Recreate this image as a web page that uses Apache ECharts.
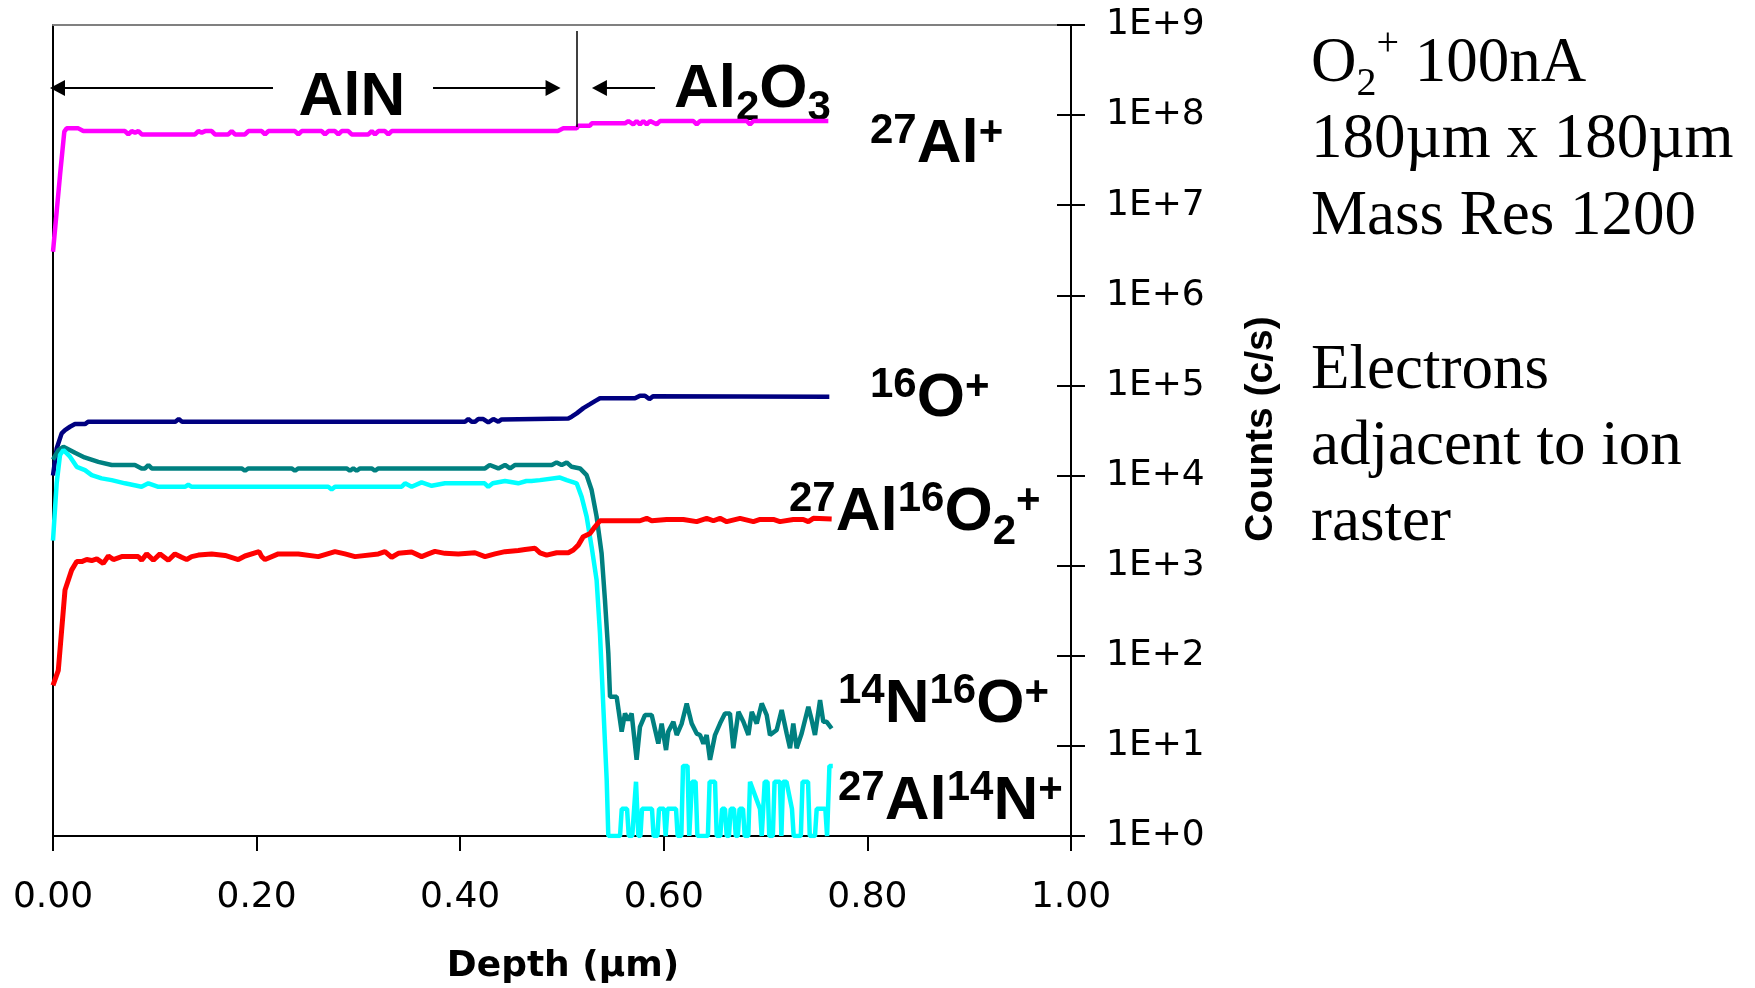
<!DOCTYPE html>
<html>
<head>
<meta charset="utf-8">
<script src="https://cdn.jsdelivr.net/npm/echarts@6.0.0/dist/echarts.min.js"></script>
<style>
html,body{margin:0;padding:0;background:#fff;}
#chart{width:1755px;height:988px;}
</style>
</head>
<body>
<div id="chart"></div>
<script>
// ---------------- DATA ----------------
// 27Al+ (magenta)
const depthAl = [0,0.0069,0.0111,0.0134,0.0249,0.0298,0.0707,0.0740,0.0773,0.0806,0.0839,0.0872,0.1395,0.1428,0.1461,0.1494,0.1559,0.1591,0.1722,0.1755,0.1788,0.1886,0.1919,0.2050,0.2083,0.2115,0.2377,0.2410,0.2443,0.2639,0.2672,0.2705,0.2770,0.2803,0.2836,0.2901,0.2934,0.3098,0.3131,0.3163,0.3196,0.3261,0.3294,0.3327,0.4960,0.5013,0.5144,0.5160,0.5275,0.5292,0.5619,0.5652,0.5700,0.5733,0.5766,0.5799,0.5832,0.5865,0.5930,0.5963,0.6290,0.6323,0.6356,0.6814,0.6847,0.6880,0.7616];
const countsAl = [3.05e6,2.16e7,6.55e7,7.13e7,7.13e7,6.65e7,6.65e7,6.11e7,6.65e7,6.4e7,6.65e7,6.11e7,6.11e7,6.65e7,6.4e7,6.65e7,6.65e7,6.11e7,6.11e7,6.65e7,6.11e7,6.11e7,6.65e7,6.65e7,6.11e7,6.65e7,6.65e7,6.11e7,6.65e7,6.65e7,6.11e7,6.65e7,6.65e7,6.11e7,6.65e7,6.65e7,6.11e7,6.11e7,6.65e7,6.11e7,6.65e7,6.65e7,6.11e7,6.65e7,6.65e7,7.13e7,7.13e7,7.64e7,7.64e7,8.1e7,8.1e7,8.6e7,7.9e7,8.6e7,7.9e7,8.6e7,7.9e7,8.6e7,7.9e7,8.6e7,8.6e7,7.9e7,8.6e7,8.6e7,7.9e7,8.6e7,8.6e7];

// 16O+ (navy)
const depthO = [0,0.0036,0.0085,0.0118,0.0167,0.0216,0.0314,0.0347,0.1202,0.1235,0.1268,0.4047,0.4080,0.4113,0.4146,0.4178,0.4227,0.4276,0.4325,0.4375,0.4407,0.5062,0.5095,0.5144,0.5210,0.5275,0.5324,0.5373,0.5717,0.5766,0.5815,0.5858,0.5897,0.7626];
const countsO = [1.0e4,2.0e4,2.94e4,3.2e4,3.48e4,3.73e4,3.73e4,3.96e4,3.96e4,4.24e4,3.96e4,3.96e4,4.24e4,3.96e4,3.96e4,4.24e4,4.24e4,3.9e4,4.24e4,3.96e4,4.2e4,4.3e4,4.5e4,4.9e4,5.6e4,6.2e4,6.7e4,7.2e4,7.2e4,7.7e4,7.7e4,7.06e4,7.6e4,7.5e4];

// 14N16O+ (teal)
const depthNO = [0,0.0052,0.0102,0.0216,0.0310,0.0445,0.0576,0.0805,0.0870,0.0904,0.0937,0.0970,0.1853,0.1886,0.1919,0.2344,0.2377,0.2410,0.2884,0.2917,0.2950,0.2983,0.3016,0.3130,0.3163,0.3196,0.4244,0.4290,0.4375,0.4440,0.4490,0.4540,0.4900,0.4947,0.4997,0.5046,0.5095,0.5177,0.5242,0.5291,0.5340,0.5389,0.5422,0.5455,0.5472,0.5537,
  0.5586,0.5619,0.5651,0.5684,0.5733,0.5766,0.5815,0.5881,0.5946,0.5979,0.6022,0.6044,0.6094,0.6127,0.6176,0.6225,0.6274,0.6323,0.6356,0.6389,0.6421,0.6454,0.6503,0.6552,0.6601,0.6650,0.6683,0.6733,0.6782,0.6831,0.6864,0.6913,0.6962,0.7011,0.7043,0.7109,0.7158,0.7207,0.7240,0.7272,0.7305,0.7354,0.7420,0.7453,0.7485,0.7535,0.7567,0.7600,0.7649];
const countsNO = [1.5e4,1.9e4,2.09e4,1.79e4,1.59e4,1.42e4,1.31e4,1.31e4,1.2e4,1.2e4,1.31e4,1.2e4,1.2e4,1.13e4,1.2e4,1.2e4,1.13e4,1.2e4,1.2e4,1.13e4,1.2e4,1.13e4,1.2e4,1.2e4,1.13e4,1.2e4,1.2e4,1.31e4,1.2e4,1.31e4,1.2e4,1.31e4,1.31e4,1.4e4,1.31e4,1.4e4,1.25e4,1.2e4,1.01e4,6.9e3,3.5e3,1.37e3,415,107,35,35,
  14.4,22.9,19.3,22.9,7.0,16.3,22.0,22.0,10.6,17.7,9.0,14.4,18.5,13.2,17.7,29.6,17.7,13.7,13.2,10.6,13.2,7.0,13.2,17.7,22.9,22.9,9.4,23.9,18.5,13.2,23.9,17.7,29.6,22.0,13.2,15.0,25.0,13.7,9.4,17.7,9.4,13.7,27.2,19.3,13.2,32.2,18.5,18.5,15.6];

// 27Al14N+ (cyan)
const depthAlN = [0,0.0036,0.0069,0.0102,0.0167,0.0233,0.0314,0.0380,0.0478,0.0576,0.0707,0.0870,0.0937,0.1035,0.1296,0.1329,0.1362,0.2704,0.2737,0.2770,0.3425,0.3458,0.3523,0.3621,0.3720,0.3850,0.4240,0.4276,0.4320,0.4440,0.4570,0.4650,0.4700,0.4784,0.4980,0.5046,0.5144,0.5193,0.5242,0.5291,0.5340,0.5373,0.5406,0.5439,
  0.5455,0.5570,0.5587,0.5639,0.5656,0.5690,0.5727,0.5750,0.5770,0.5786,0.5884,0.5900,0.5937,0.5953,0.6002,0.6018,0.6036,0.6120,0.6136,0.6172,0.6189,0.6233,0.6250,0.6260,0.6277,0.6312,0.6330,0.6433,0.6450,0.6503,0.6520,0.6555,0.6572,0.6601,0.6618,0.6640,0.6657,0.6690,0.6707,0.6727,0.6744,0.6778,0.6795,0.6830,0.6847,0.6945,0.6962,0.6974,0.6991,0.7019,0.7036,0.7071,0.7088,0.7141,0.7155,0.7171,0.7205,0.7259,0.7276,0.7346,0.7363,0.7417,0.7434,0.7485,0.7502,0.7587,0.7604,0.7610,0.7627,0.7660];
const countsAlN = [1.9e3,8.2e3,1.69e4,1.92e4,1.62e4,1.25e4,1.15e4,1.01e4,9.3e3,8.9e3,8.2e3,7.5e3,8.2e3,7.5e3,7.5e3,7.9e3,7.5e3,7.5e3,7.0e3,7.5e3,7.5e3,8.2e3,7.5e3,8.4e3,7.7e3,8.2e3,8.2e3,7.5e3,8.2e3,8.7e3,8.2e3,8.7e3,8.7e3,8.9e3,9.5e3,8.9e3,8.2e3,5.8e3,3.5e3,1.62e3,692,177,27,4.2,
  1,1,2,2,1,1,4,1,1,2,2,1,1,2,2,1,2,2,1,1,6,6,1,1,4,4,1,1,4,4,1,1,2,2,1,1,2,2,1,1,2,2,1,1,4,2,1,1,4,4,1,1,4,4,1,4,4,2,1,1,4,4,1,1,2,2,1,1,6,6];

// 27Al16O2+ (red)
const depthAlO2 = [0,0.0052,0.0118,0.0183,0.0233,0.0282,0.0331,0.0380,0.0430,0.0494,0.0544,0.0593,0.0675,0.0838,0.0871,0.0920,0.0986,0.1051,0.1133,0.1198,0.1264,0.1313,0.1362,0.1428,0.1559,0.1690,0.1820,0.1886,0.2024,0.2050,0.2083,0.2213,0.2410,0.2606,0.2770,0.2868,0.2967,0.3196,0.3261,0.3327,0.3392,0.3523,0.3621,0.3687,0.3752,0.3850,0.3981,0.4145,0.4244,0.4342,0.4440,0.4571,0.4637,0.4735,0.4784,0.4849,0.4947,0.5062,0.5111,0.5160,0.5209,0.5275,0.5324,0.5373,0.5766,0.5832,0.5881,0.6028,0.6192,0.6323,0.6421,0.6487,0.6552,0.6618,0.6749,0.6880,0.6946,0.7076,0.7141,0.7272,0.7370,0.7420,0.7469,0.7649];
const countsAlO2 = [47,69,536,893,1.11e3,1.11e3,1.17e3,1.14e3,1.19e3,1.06e3,1.28e3,1.17e3,1.26e3,1.26e3,1.15e3,1.35e3,1.15e3,1.35e3,1.15e3,1.35e3,1.24e3,1.17e3,1.26e3,1.31e3,1.35e3,1.30e3,1.17e3,1.28e3,1.43e3,1.26e3,1.17e3,1.35e3,1.35e3,1.26e3,1.43e3,1.35e3,1.26e3,1.35e3,1.43e3,1.24e3,1.37e3,1.42e3,1.26e3,1.35e3,1.44e3,1.37e3,1.35e3,1.39e3,1.26e3,1.35e3,1.43e3,1.47e3,1.51e3,1.56e3,1.39e3,1.31e3,1.39e3,1.39e3,1.49e3,1.69e3,2.1e3,2.28e3,2.7e3,3.15e3,3.15e3,3.35e3,3.15e3,3.26e3,3.26e3,3.08e3,3.35e3,3.15e3,3.35e3,3.08e3,3.35e3,3.08e3,3.26e3,3.26e3,3.08e3,3.26e3,3.26e3,3.08e3,3.35e3,3.3e3];

// Axis ticks
const xTickValues = [0, 0.2, 0.4, 0.6, 0.8, 1.0];
const yTickExponents = [0,1,2,3,4,5,6,7,8,9];

// Layer annotation positions (depth, counts)
const layerBoundaryDepth = 0.5147;
const arrowLevel = 2.0e8;

// ---------------- HELPERS ----------------
const zip = (a, b) => a.map((v, i) => [v, b[i]]);
const measureCtx = document.createElement('canvas').getContext('2d');
const MID = 0.25;
function runs(x0, baseline, parts, family, weight) {
  let x = x0; const out = [];
  parts.forEach(p => {
    const font = `${weight} ${p.s}px ${family}`;
    measureCtx.font = font;
    const w = measureCtx.measureText(p.t).width;
    out.push({
      type: 'text', x: x, y: baseline + (p.dy || 0) - MID * p.s, silent: true,
      style: { text: p.t, font: font, fill: '#000', align: 'left', verticalAlign: 'middle', textAlign: 'left', textVerticalAlign: 'middle' }
    });
    x += w;
  });
  return out;
}
const SANS = '"Liberation Sans", Arial, sans-serif';
const SERIF = '"Liberation Serif", "Times New Roman", serif';
const B = 62, S = 42, SUP = -18, SUB = 15;

const graphics = [].concat(
  runs(298.5, 113, [{t:'AlN', s:B}], SANS, 'bold'),
  runs(674, 105, [{t:'Al', s:B},{t:'2', s:S, dy:14},{t:'O', s:B},{t:'3', s:S, dy:14}], SANS, 'bold'),
  runs(870, 160, [{t:'27', s:S, dy:SUP},{t:'Al', s:B},{t:'+', s:S, dy:SUP+2}], SANS, 'bold'),
  runs(870, 414, [{t:'16', s:S, dy:SUP},{t:'O', s:B},{t:'+', s:S, dy:SUP+2}], SANS, 'bold'),
  runs(789, 528, [{t:'27', s:S, dy:SUP},{t:'Al', s:B},{t:'16', s:S, dy:SUP},{t:'O', s:B},{t:'2', s:S, dy:SUB},{t:'+', s:S, dy:SUP+2}], SANS, 'bold'),
  runs(838, 720, [{t:'14', s:S, dy:SUP},{t:'N', s:B},{t:'16', s:S, dy:SUP},{t:'O', s:B},{t:'+', s:S, dy:SUP+2}], SANS, 'bold'),
  runs(838, 817, [{t:'27', s:S, dy:SUP},{t:'Al', s:B},{t:'14', s:S, dy:SUP},{t:'N', s:B},{t:'+', s:S, dy:SUP+2}], SANS, 'bold'),
  runs(1311, 80, [{t:'O', s:63},{t:'2', s:40, dy:14},{t:'+', s:40, dy:-26},{t:' 100nA', s:63}], SERIF, 'normal'),
  runs(1311, 156, [{t:'180µm x 180µm', s:63}], SERIF, 'normal'),
  runs(1311, 233, [{t:'Mass Res 1200', s:63}], SERIF, 'normal'),
  runs(1311, 387, [{t:'Electrons', s:63}], SERIF, 'normal'),
  runs(1311, 463, [{t:'adjacent to ion', s:63}], SERIF, 'normal'),
  runs(1311, 539, [{t:'raster', s:63}], SERIF, 'normal'),
  [{
    type: 'text', x: 1261, y: 429, rotation: Math.PI / 2, silent: true,
    style: { text: 'Counts (c/s)', font: 'bold 39px ' + SANS, fill: '#000', align: 'center', verticalAlign: 'middle', textAlign: 'center', textVerticalAlign: 'middle' }
  },{
    type: 'text', x: 563, y: 967, silent: true,
    style: { text: 'Depth (µm)', font: 'bold 36px "DejaVu Sans", sans-serif', fill: '#000', align: 'center', verticalAlign: 'middle', textAlign: 'center', textVerticalAlign: 'middle' }
  }]
);

const arrowHead = { symbol: 'triangle', symbolSize: [16, 15] };
const LW = 4.5;
const chart = echarts.init(document.getElementById('chart'), null, { renderer: 'canvas' });
const logAxisBase = { type: 'log', logBase: 10, min: 1, max: 1e9, splitNumber: 9, splitLine: { show: false } };
chart.setOption({
  animation: false,
  backgroundColor: '#fff',
  grid: { left: 53, top: 25, width: 1018, height: 811, containLabel: false },
  xAxis: [{
    type: 'value', min: 0, max: 1, interval: 0.2, position: 'bottom', z: 3,
    axisLine: { onZero: false, lineStyle: { color: '#000', width: 2 } },
    axisTick: { show: true, length: 15, lineStyle: { color: '#000', width: 2 } },
    axisLabel: { formatter: v => v.toFixed(2), fontFamily: 'DejaVu Sans', fontSize: 36, color: '#000', margin: 44 },
    splitLine: { show: false }
  }, {
    type: 'value', min: 0, max: 1, position: 'top',
    axisLine: { onZero: false, lineStyle: { color: '#808080', width: 2 } },
    axisTick: { show: false }, axisLabel: { show: false }, splitLine: { show: false }
  }],
  yAxis: [Object.assign({}, logAxisBase, {
    position: 'right',
    axisLine: { show: true, onZero: false, lineStyle: { color: '#000', width: 2 } },
    axisTick: { show: true, inside: false, length: 14, lineStyle: { color: '#000', width: 2 } },
    axisLabel: { formatter: v => '1E+' + Math.round(Math.log10(v)), fontFamily: 'DejaVu Sans', fontSize: 36, color: '#000', margin: 35 }
  }), Object.assign({}, logAxisBase, {
    position: 'right',
    axisLine: { show: true, onZero: false, lineStyle: { color: '#000', width: 2 } },
    axisTick: { show: true, inside: true, length: 14, lineStyle: { color: '#000', width: 2 } },
    axisLabel: { show: false }
  }), Object.assign({}, logAxisBase, {
    position: 'left',
    axisLine: { show: true, onZero: false, lineStyle: { color: '#000', width: 2 } },
    axisTick: { show: false }, axisLabel: { show: false }
  })],
  series: [
    { name: '27Al+', type: 'line', data: zip(depthAl, countsAl), showSymbol: false, symbol: 'none',
      lineStyle: { color: '#FF00FF', width: LW }, itemStyle: { color: '#FF00FF' },
      markLine: {
        silent: true, animation: false, symbol: ['none', 'none'], label: { show: false },
        lineStyle: { color: '#000', width: 2, type: 'solid' }, emphasis: { disabled: true },
        data: [
          [Object.assign({ coord: [0.0044, arrowLevel] }, arrowHead), { coord: [0.2161, arrowLevel], symbol: 'none' }],
          [{ coord: [0.3733, arrowLevel], symbol: 'none' }, Object.assign({ coord: [0.4912, arrowLevel] }, arrowHead)],
          [Object.assign({ coord: [0.5368, arrowLevel] }, arrowHead), { coord: [0.5914, arrowLevel], symbol: 'none' }],
          [{ coord: [layerBoundaryDepth, 8.58e8], symbol: 'none', lineStyle: { width: 1.5 } }, { coord: [layerBoundaryDepth, 7.38e7], symbol: 'none' }]
        ]
      } },
    { name: '16O+', type: 'line', data: zip(depthO, countsO), showSymbol: false, symbol: 'none',
      lineStyle: { color: '#000080', width: LW } },
    { name: '14N16O+', type: 'line', data: zip(depthNO, countsNO), showSymbol: false, symbol: 'none',
      lineStyle: { color: '#008080', width: LW } },
    { name: '27Al14N+', type: 'line', data: zip(depthAlN, countsAlN), showSymbol: false, symbol: 'none',
      lineStyle: { color: '#00FFFF', width: LW } },
    { name: '27Al16O2+', type: 'line', data: zip(depthAlO2, countsAlO2), showSymbol: false, symbol: 'none',
      lineStyle: { color: '#FF0000', width: 5 } }
  ],
  graphic: { elements: graphics }
});
</script>
</body>
</html>
